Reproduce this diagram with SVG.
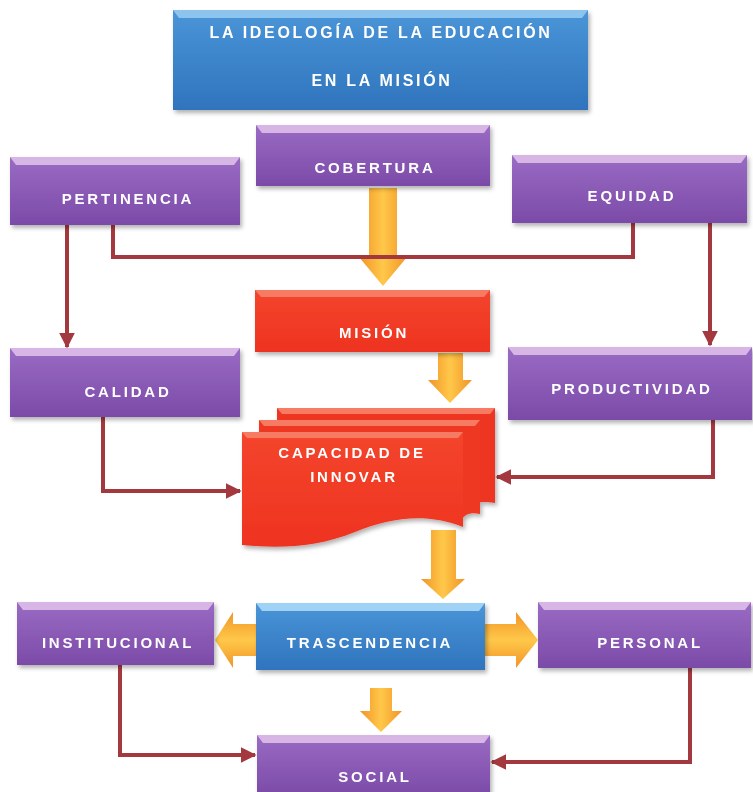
<svg xmlns="http://www.w3.org/2000/svg" width="753" height="792" viewBox="0 0 753 792">
<style>
  .lbl{font-family:"Liberation Sans",Arial,sans-serif;font-weight:bold;font-size:15px;fill:#ffffff;letter-spacing:2.8px;text-anchor:middle}
  .ttl{font-size:16px;letter-spacing:2.7px}
  .conn{fill:none;stroke:#a3393f;stroke-width:4;stroke-linejoin:miter}
  .purple{fill:url(#gPurple)}
  .pbevel{fill:#d7b6e6}
</style>
<defs>
  <linearGradient id="gPurple" x1="0" y1="0" x2="0" y2="1">
    <stop offset="0" stop-color="#9a6bc4"/>
    <stop offset="1" stop-color="#7b4ba8"/>
  </linearGradient>
  <linearGradient id="gBlue" x1="0" y1="0" x2="0" y2="1">
    <stop offset="0" stop-color="#4a95d8"/>
    <stop offset="1" stop-color="#2f74bd"/>
  </linearGradient>
  <linearGradient id="gRed" x1="0" y1="0" x2="0" y2="1">
    <stop offset="0" stop-color="#f4452c"/>
    <stop offset="1" stop-color="#ee3320"/>
  </linearGradient>
  <linearGradient id="gOrV" x1="0" y1="0" x2="1" y2="0">
    <stop offset="0" stop-color="#f19426"/>
    <stop offset="0.5" stop-color="#ffc84a"/>
    <stop offset="1" stop-color="#f19426"/>
  </linearGradient>
  <linearGradient id="gOrH" x1="0" y1="0" x2="0" y2="1">
    <stop offset="0" stop-color="#f19426"/>
    <stop offset="0.5" stop-color="#ffc84a"/>
    <stop offset="1" stop-color="#f19426"/>
  </linearGradient>
  <filter id="sh" x="-10%" y="-10%" width="130%" height="140%">
    <feDropShadow dx="2" dy="3" stdDeviation="2" flood-color="#000" flood-opacity="0.3"/>
  </filter>
  <marker id="ah" viewBox="0 0 10 10" refX="9" refY="5" markerWidth="4" markerHeight="4" orient="auto" markerUnits="strokeWidth">
    <path d="M0,0 L10,5 L0,10 Z" fill="#a3393f"/>
  </marker>
</defs>
<rect width="753" height="792" fill="#ffffff"/>

<g id="title" filter="url(#sh)">
  <rect x="173" y="10" width="415" height="100" fill="url(#gBlue)"/>
  <polygon points="173,10 588,10 582,18 179,18" fill="#8cc4ee"/>
  <text class="lbl ttl" x="381" y="38">LA IDEOLOGÍA DE LA EDUCACIÓN</text>
  <text class="lbl ttl" x="382" y="86">EN LA MISIÓN</text>
</g>

<g id="connectors">
  <!-- block arrows -->
  <path d="M369,188 H397 V257 H407 L383,286 L359,257 H369 Z" fill="url(#gOrV)"/>
  <path d="M438,353 H463 V380 H472 L450,403 L428,380 H438 Z" fill="url(#gOrV)"/>
  <path d="M431,530 H456 V579 H465 L443,599 L421,579 H431 Z" fill="url(#gOrV)"/>
  <path d="M370,688 H392 V711 H402 L381,732 L360,711 H370 Z" fill="url(#gOrV)"/>
  <path d="M257,624 H233 V612 L215,640 L233,668 V656 H257 Z" fill="url(#gOrH)"/>
  <path d="M485,624 H516 V612 L538,640 L516,668 V656 H485 Z" fill="url(#gOrH)"/>
  <!-- line connectors -->
  <polyline class="conn" points="113,225 113,257 633,257 633,223"/>
  <polyline class="conn" points="67,225 67,347" marker-end="url(#ah)"/>
  <polyline class="conn" points="710,223 710,345" marker-end="url(#ah)"/>
  <polyline class="conn" points="103,417 103,491 240,491" marker-end="url(#ah)"/>
  <polyline class="conn" points="713,420 713,477 497,477" marker-end="url(#ah)"/>
  <polyline class="conn" points="120,665 120,755 255,755" marker-end="url(#ah)"/>
  <polyline class="conn" points="690,668 690,762 492,762" marker-end="url(#ah)"/>
</g>

<g id="cobertura" filter="url(#sh)">
  <rect class="purple" x="256" y="125" width="234" height="61"/>
  <polygon class="pbevel" points="256,125 490,125 484,133 262,133"/>
  <text class="lbl" x="375" y="173">COBERTURA</text>
</g>

<g id="pertinencia" filter="url(#sh)">
  <rect class="purple" x="10" y="157" width="230" height="68"/>
  <polygon class="pbevel" points="10,157 240,157 234,165 16,165"/>
  <text class="lbl" x="128" y="204">PERTINENCIA</text>
</g>

<g id="equidad" filter="url(#sh)">
  <rect class="purple" x="512" y="155" width="235" height="68"/>
  <polygon class="pbevel" points="512,155 747,155 741,163 518,163"/>
  <text class="lbl" x="632" y="201">EQUIDAD</text>
</g>

<g id="mision" filter="url(#sh)">
  <rect x="255" y="290" width="235" height="62" fill="url(#gRed)"/>
  <polygon points="255,290 490,290 484,297 261,297" fill="#f77a62"/>
  <text class="lbl" x="374" y="338">MISIÓN</text>
</g>

<g id="calidad" filter="url(#sh)">
  <rect class="purple" x="10" y="348" width="230" height="69"/>
  <polygon class="pbevel" points="10,348 240,348 234,356 16,356"/>
  <text class="lbl" x="128" y="397">CALIDAD</text>
</g>

<g id="productividad" filter="url(#sh)">
  <rect class="purple" x="508" y="347" width="244" height="73"/>
  <polygon class="pbevel" points="508,347 752,347 746,355 514,355"/>
  <text class="lbl" x="632" y="394">PRODUCTIVIDAD</text>
</g>

<g id="capacidad" filter="url(#sh)">
  <path d="M277,408 H495 V503 C478,500 470,504 463,508 L277,508 Z" fill="#ee3522"/>
  <polygon points="277,408 495,408 490,414 282,414" fill="#f77a62"/>
  <path d="M259,420 H480 V514 C470,512 465,515 463,518 L259,518 Z" fill="#ef3823"/>
  <polygon points="259,420 480,420 475,426 264,426" fill="#f77a62"/>
  <path d="M242,432 H463 V527 C425,512 390,518 355,532 C318,547 280,549 242,545 Z" fill="url(#gRed)"/>
  <polygon points="242,432 463,432 458,438 247,438" fill="#f77a62"/>
  <text class="lbl" x="352" y="458">CAPACIDAD DE</text>
  <text class="lbl" x="354" y="482">INNOVAR</text>
</g>

<g id="institucional" filter="url(#sh)">
  <rect class="purple" x="17" y="602" width="197" height="63"/>
  <polygon class="pbevel" points="17,602 214,602 208,610 23,610"/>
  <text class="lbl" x="118" y="648">INSTITUCIONAL</text>
</g>

<g id="trascendencia" filter="url(#sh)">
  <rect x="256" y="603" width="229" height="67" fill="url(#gBlue)"/>
  <polygon points="256,603 485,603 479,611 262,611" fill="#9fd2f4"/>
  <text class="lbl" x="370" y="648">TRASCENDENCIA</text>
</g>

<g id="personal" filter="url(#sh)">
  <rect class="purple" x="538" y="602" width="213" height="66"/>
  <polygon class="pbevel" points="538,602 751,602 745,610 544,610"/>
  <text class="lbl" x="650" y="648">PERSONAL</text>
</g>

<g id="social" filter="url(#sh)">
  <rect class="purple" x="257" y="735" width="233" height="60"/>
  <polygon class="pbevel" points="257,735 490,735 484,743 263,743"/>
  <text class="lbl" x="375" y="782">SOCIAL</text>
</g>
</svg>
